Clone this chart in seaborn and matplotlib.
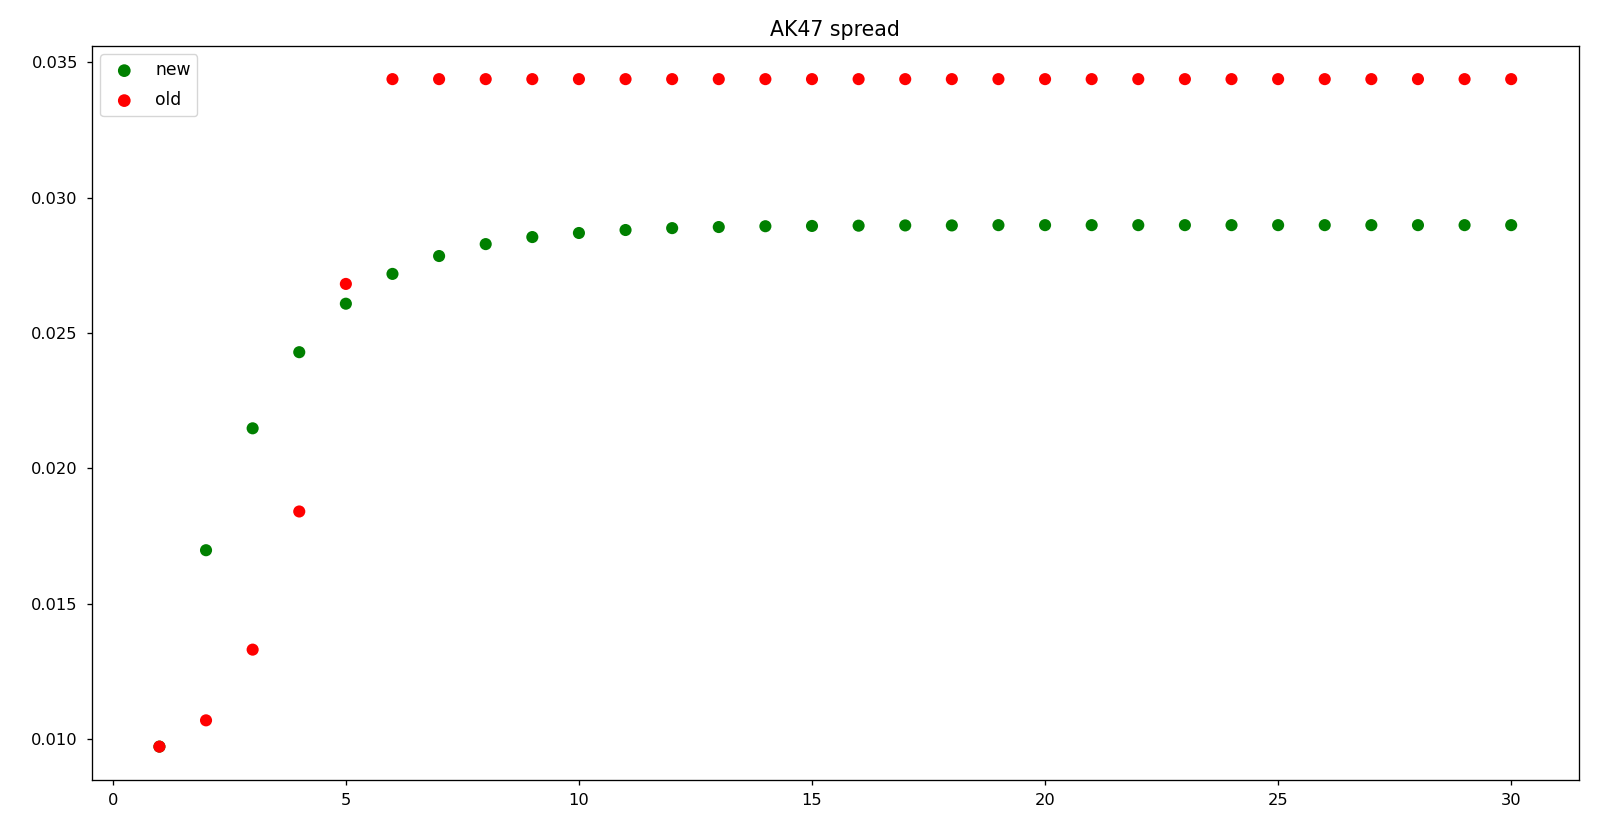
import numpy as np
import pandas as pd
import matplotlib
matplotlib.use("Agg")
import matplotlib.pyplot as plt
import seaborn as sns

shots = list(range(1, 31))
new_spread = [0.00973, 0.01698, 0.02148, 0.02429, 0.02608, 0.02718, 0.02784, 0.02828,
              0.02854, 0.02869, 0.02880, 0.02887, 0.02891, 0.02894, 0.02895, 0.02896,
              0.02897, 0.02897, 0.02898, 0.02898, 0.02898, 0.02898, 0.02898, 0.02898,
              0.02898, 0.02898, 0.02898, 0.02898, 0.02898, 0.02898]
old_spread = [0.00973, 0.01070, 0.01331, 0.01841, 0.02681] + [0.03437] * 25

df_new = pd.DataFrame({"shot": shots, "spread": new_spread})
df_old = pd.DataFrame({"shot": shots, "spread": old_spread})

fig, ax = plt.subplots(figsize=(16.11, 8.17), dpi=100)
sns.scatterplot(data=df_new, x="shot", y="spread", color="green", label="new",
                s=76, edgecolor="none", ax=ax)
sns.scatterplot(data=df_old, x="shot", y="spread", color="red", label="old",
                s=76, edgecolor="none", ax=ax)
ax.set_xlabel("")
ax.set_ylabel("")
ax.set_title("AK47 spread", fontsize=14.8, pad=7)
ax.legend(loc="upper left", fontsize=12.3, labelspacing=0.7, markerscale=1.05)
ax.tick_params(labelsize=11.7, length=3.8, width=0.95)
ax.tick_params(axis="y", pad=6.3)
ax.tick_params(axis="x", pad=5.3)
for sp in ax.spines.values():
    sp.set_linewidth(0.95)
fig.subplots_adjust(left=0.057, right=0.980, bottom=0.0453, top=0.944)
fig.savefig("out.png", dpi=100)
